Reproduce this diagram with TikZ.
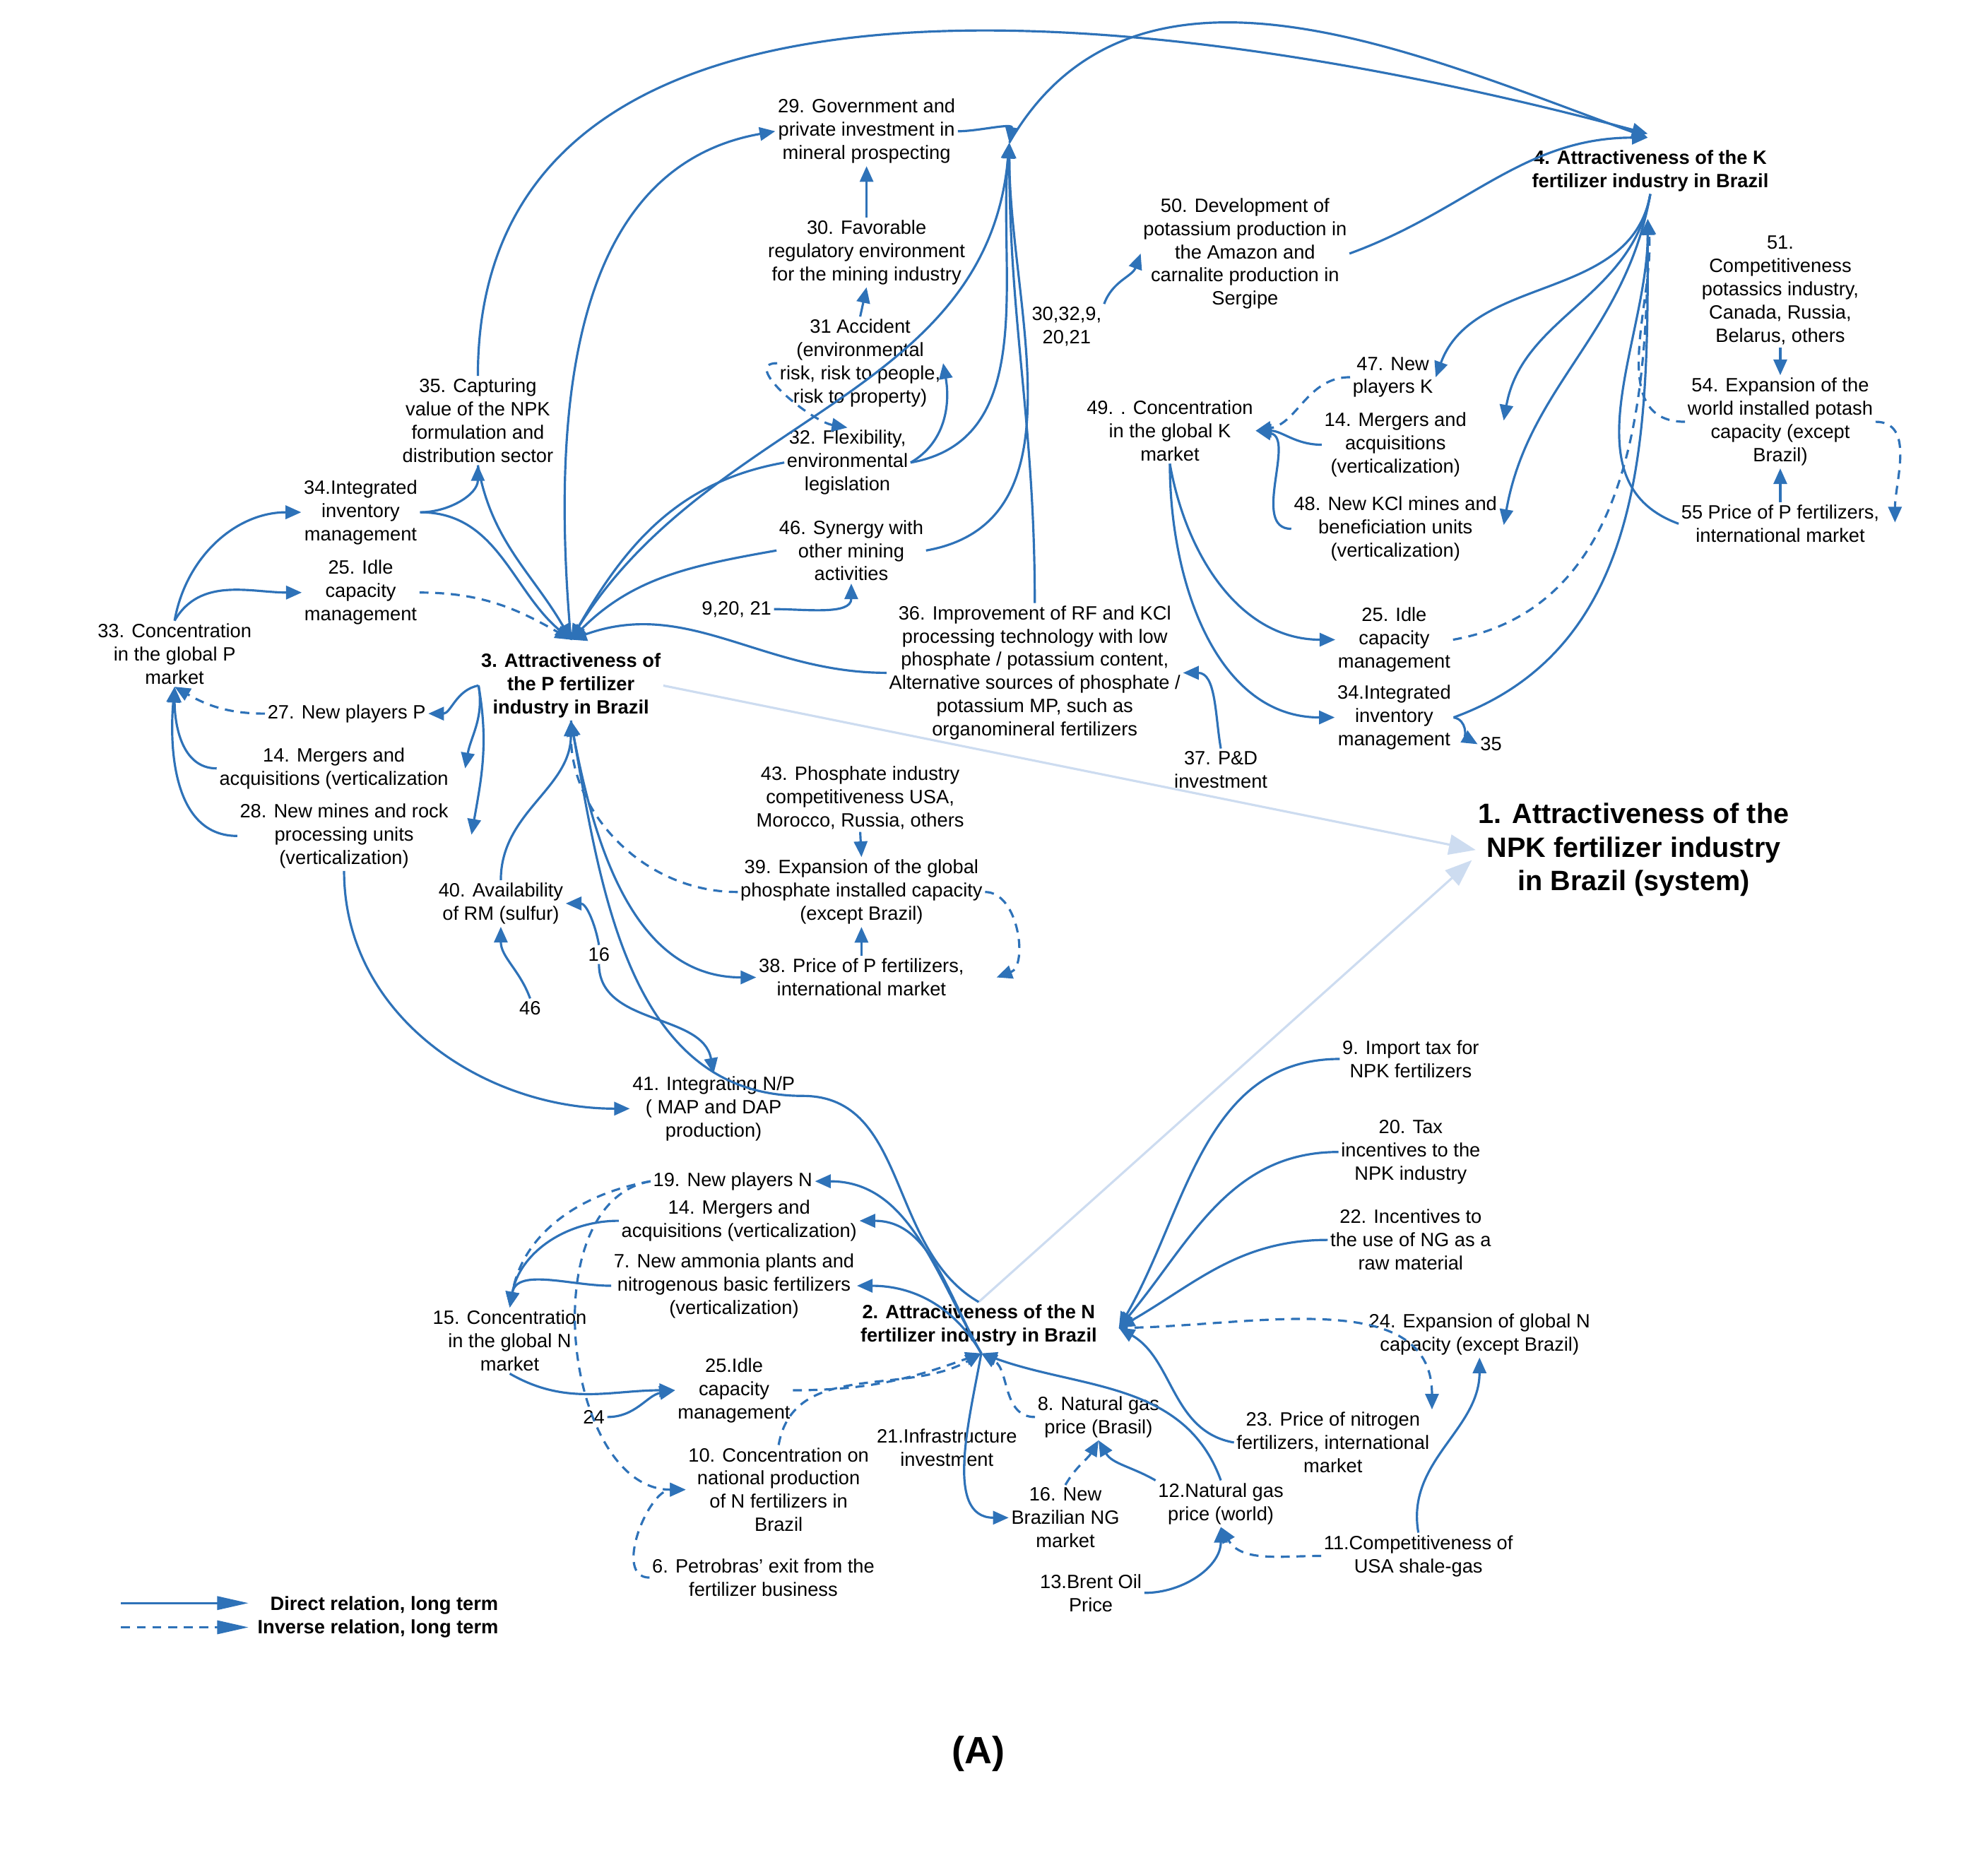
\documentclass[tikz,border=0pt]{standalone}
\usepackage{fontspec}
\setmainfont{Liberation Sans}
\usetikzlibrary{arrows.meta}
\definecolor{cldblue}{RGB}{46,114,184}
\definecolor{sysblue}{RGB}{205,220,240}
\tikzset{
	lbl/.style={align=center,inner sep=1pt,font=\fontsize{8.6}{10.4}\selectfont},
	hd/.style={lbl,font=\fontsize{8.6}{10.4}\selectfont\bfseries},
	dr/.style={draw=cldblue,line width=1pt,-{Triangle[length=7pt,width=6pt]}},
	inv/.style={dr,dash pattern=on 4pt off 3pt},
	sys/.style={draw=sysblue,line width=1pt,-{Triangle[length=12pt,width=9pt]}}
}
\begin{document}
\begin{tikzpicture}[x=0.02cm,y=-0.02cm]
		\useasboundingbox (0,0) rectangle (1560,1463);
		
		% P cluster
		\node[lbl] (n29) at (680,103) {29. Government and\\private investment in\\mineral prospecting};
		\node[lbl] (n30) at (680,198) {30. Favorable\\regulatory environment\\for the mining industry};
		\node[lbl] (n31) at (675,285) {31 Accident\\(environmental\\risk, risk to people,\\risk to property)};
		\node[lbl] (n32) at (665,363) {32. Flexibility,\\environmental\\legislation};
		\node[lbl] (n46) at (668,432) {46. Synergy with\\other mining\\activities};
		\node[lbl] (n35) at (375,330) {35. Capturing\\value of the NPK\\formulation and\\distribution sector};
		\node[lbl] (n34) at (283,402) {34.Integrated\\inventory\\management};
		\node[lbl] (n25) at (283,465) {25. Idle\\capacity\\management};
		\node[lbl] (n33) at (137,513) {33. Concentration\\in the global P\\market};
		\node[hd] (n3) at (448,538) {3. Attractiveness of\\the P fertilizer\\industry in Brazil};
		\node[lbl] (n27) at (272,560) {27. New players P};
		\node[lbl] (n14) at (262,603) {14. Mergers and\\acquisitions (verticalization};
		\node[lbl] (n28) at (270,656) {28. New mines and rock\\processing units\\(verticalization)};
		\node[lbl] (n40) at (393,709) {40. Availability\\of RM (sulfur)};
		\node[lbl] (n46b) at (416,791) {46};
		\node[lbl] (n16) at (470,749) {16};
		\node[lbl] (n36) at (812,528) {36. Improvement of RF and KCl\\processing technology with low\\phosphate / potassium content,\\Alternative sources of phosphate /\\potassium MP, such as\\organomineral fertilizers};
		\node[lbl] (n921) at (578,478) {9,20, 21};
		\node[lbl] (n37) at (958,604) {37. P\&D\\investment};
		\node[lbl] (n43) at (675,626) {43. Phosphate industry\\competitiveness USA,\\Morocco, Russia, others};
		\node[lbl] (n39) at (676,700) {39. Expansion of the global\\phosphate installed capacity\\(except Brazil)};
		\node[lbl] (n38) at (676,767) {38. Price of P fertilizers,\\international market};
		\node[lbl] (n41) at (560,870) {41. Integrating N/P\\( MAP and DAP\\production)};
		
		% K cluster
		\node[lbl] (n50) at (977,199) {50. Development of\\potassium production in\\the Amazon and\\carnalite production in\\Sergipe};
		\node[lbl] (n3032) at (837,256) {30,32,9,\\20,21};
		\node[hd] (n4) at (1295,134) {4. Attractiveness of the K\\fertilizer industry in Brazil};
		\node[lbl] (n51) at (1397,228) {51.\\Competitiveness\\potassics industry,\\Canada, Russia,\\Belarus, others};
		\node[lbl] (n54) at (1397,331) {54. Expansion of the\\world installed potash\\capacity (except\\Brazil)};
		\node[lbl] (n55) at (1397,411) {55 Price of P fertilizers,\\international market};
		\node[lbl] (n47) at (1093,296) {47. New\\players K};
		\node[lbl] (n14k) at (1095,349) {14. Mergers and\\acquisitions\\(verticalization)};
		\node[lbl] (n48) at (1095,415) {48. New KCl mines and\\beneficiation units\\(verticalization)};
		\node[lbl] (n49) at (918,338) {49. . Concentration\\in the global K\\market};
		\node[lbl] (n25k) at (1094,502) {25. Idle\\capacity\\management};
		\node[lbl] (n34k) at (1094,563) {34.Integrated\\inventory\\management};
		\node[lbl] (n35k) at (1170,584) {35};
		
		\node[lbl,font=\fontsize{12.5}{15}\selectfont\bfseries] (n1) at (1282,667) {1. Attractiveness of the\\NPK fertilizer industry\\in Brazil (system)};
		
		% N cluster
		\node[lbl] (n9) at (1107,831) {9. Import tax for\\NPK fertilizers};
		\node[lbl] (n20) at (1107,904) {20. Tax\\incentives to the\\NPK industry};
		\node[lbl] (n22) at (1107,973) {22. Incentives to\\the use of NG as a\\raw material};
		\node[lbl] (n24) at (1161,1047) {24. Expansion of global N\\capacity (except Brazil)};
		\node[lbl] (n23) at (1046,1132) {23. Price of nitrogen\\fertilizers, international\\market};
		\node[lbl] (n11) at (1113,1221) {11.Competitiveness of\\USA shale-gas};
		\node[hd] (n2) at (768,1040) {2. Attractiveness of the N\\fertilizer industry in Brazil};
		\node[lbl] (n19) at (575,927) {19. New players N};
		\node[lbl] (n14n) at (580,958) {14. Mergers and\\acquisitions (verticalization)};
		\node[lbl] (n7) at (576,1009) {7. New ammonia plants and\\nitrogenous basic fertilizers\\(verticalization)};
		\node[lbl] (n15) at (400,1052) {15. Concentration\\in the global N\\market};
		\node[lbl] (n25n) at (576,1091) {25.Idle\\capacity\\management};
		\node[lbl] (n24b) at (466,1112) {24};
		\node[lbl] (n10) at (611,1169) {10. Concentration on\\national production\\of N fertilizers in\\Brazil};
		\node[lbl] (n6) at (599,1238) {6. Petrobras' exit from the\\fertilizer business};
		\node[lbl] (n21) at (743,1136) {21.Infrastructure\\investment};
		\node[lbl] (n8) at (862,1112) {8. Natural gas\\price (Brasil)};
		\node[lbl] (n16n) at (836,1191) {16. New\\Brazilian NG\\market};
		\node[lbl] (n12) at (958,1180) {12.Natural gas\\price (world)};
		\node[lbl] (n13) at (856,1250) {13.Brent Oil\\Price};
		
		% hubs
		\coordinate (hP) at (448,502);
		\coordinate (hK) at (792,112);
		\coordinate (hK4) at (1293,172);
		\coordinate (hN) at (770,1062);
		\coordinate (hN2) at (878,1042);
		\coordinate (e54) at (1487,410);
		\coordinate (e39) at (782,767);
		
		% system links
		\draw[sys] (n3.east) -- (n1.west);
		\draw[sys] (n2.north) -- (1155,675);
		
		% P links
		\draw[dr] (n35.north) to[out=90,in=165] (1293,105);
		\draw[dr] (hP) to[out=95,in=190] (n29.west);
		\draw[dr] (n29.east) to[out=0,in=80] (hK);
		\draw[dr] (hK) to[out=60,in=160] (1293,108);
		\draw[dr] (hP) to[out=60,in=265] (hK);
		\draw[dr] (n32.east) to[out=10,in=265] (hK);
		\draw[dr] (n46.east) to[out=10,in=270] (hK);
		\draw[dr] (n36.north) to[out=90,in=270] (hK);
		\draw[dr] (n30.north) -- (n29.south);
		\draw[dr] (n31.north) -- (n30.south);
		\draw[dr] (n32.east) to[out=30,in=-80] (n31.east);
		\draw[inv] (n31.west) to[out=180,in=170] (n32.north);
		\draw[dr] (n34.east) to[out=0,in=-90] (n35.south);
		\draw[dr] (n33.north) to[out=80,in=180] (n34.west);
		\draw[dr] (n33.north) to[out=60,in=180] (n25.west);
		\draw[inv] (n25.east) to[out=0,in=150] (hP);
		\draw[dr] (n34.east) to[out=0,in=140] (hP);
		\draw[dr] (n35.south) to[out=-80,in=120] (hP);
		\draw[dr] (n32.west) to[out=190,in=60] (hP);
		\draw[dr] (n46.west) to[out=190,in=45] (hP);
		\draw[dr] (n36.west) to[out=180,in=20] (hP);
		\draw[inv] (n27.west) to[out=180,in=-30] (n33.south);
		\draw[dr] (n14.west) to[out=180,in=-90] (n33.south);
		\draw[dr] (n28.west) to[out=180,in=-95] (n33.south);
		\draw[dr] (n3.west) to[out=190,in=0] (n27.east);
		\draw[dr] (n3.west) to[out=-80,in=80] (365,603);
		\draw[dr] (n3.west) to[out=-80,in=80] (370,655);
		\draw[dr] (n28.south) to[out=-90,in=180] (n41.west);
		\draw[dr] (n40.north) to[out=90,in=-90] (n3.south);
		\draw[dr] (n46b.north) to[out=110,in=-90] (n40.south);
		\draw[dr] (n16.north) to[out=100,in=0] (n40.east);
		\draw[dr] (n16.south) to[out=-90,in=100] (n41.north);
		\draw[dr] (n3.south) to[out=-80,in=180] (n38.west);
		\draw[inv] (n39.west) to[out=180,in=-90] (n3.south);
		\draw[dr] (n43.south) -- (n39.north);
		\draw[dr] (n38.north) -- (n39.south);
		\draw[inv] (n39.east) to[out=0,in=20] (e39);
		\draw[dr] (n921.east) to[out=0,in=-90] (n46.south);
		\draw[dr] (n37.north) to[out=100,in=0] (n36.east);
		\draw[dr] (n2.north) to[out=150,in=0] (630,860) to[out=180,in=-80] (n3.south);
		
		% K links
		\draw[dr] (n3032.north east) to[out=70,in=250] (n50.west);
		\draw[dr] (n50.east) to[out=20,in=180] (1293,108);
		\draw[dr] (n4.south) to[out=-100,in=70] (n47.east);
		\draw[dr] (n4.south) to[out=-100,in=80] (1180,330);
		\draw[dr] (n4.south) to[out=-100,in=80] (1180,412);
		\draw[inv] (n47.west) to[out=180,in=10] (n49.east);
		\draw[dr] (n14k.west) to[out=180,in=0] (n49.east);
		\draw[dr] (n48.west) to[out=180,in=-10] (n49.east);
		\draw[dr] (n49.south) to[out=-80,in=180] (n25k.west);
		\draw[dr] (n49.south) to[out=-90,in=180] (n34k.west);
		\draw[inv] (n25k.east) to[out=10,in=-90] (hK4);
		\draw[dr] (n34k.east) to[out=20,in=-90] (hK4);
		\draw[dr] (n34k.east) to[out=-10,in=150] (n35k.west);
		\draw[dr] (n51.south) -- (n54.north);
		\draw[dr] (n55.north) -- (n54.south);
		\draw[dr] (n55.west) to[out=160,in=-90] (hK4);
		\draw[inv] (n54.west) to[out=180,in=-85] (hK4);
		\draw[inv] (n54.east) to[out=0,in=90] (e54);
		
		% N links
		\draw[dr] (hN) to[out=120,in=0] (n19.east);
		\draw[dr] (hN) to[out=120,in=0] (n14n.east);
		\draw[dr] (hN) to[out=120,in=0] (n7.east);
		\draw[inv] (n19.west) to[out=190,in=80] (n15.north);
		\draw[dr] (n14n.west) to[out=180,in=80] (n15.north);
		\draw[dr] (n7.west) to[out=180,in=80] (n15.north);
		\draw[inv] (n19.west) to[out=190,in=180] (n10.west);
		\draw[dr] (n15.south) to[out=-30,in=180] (n25n.west);
		\draw[dr] (n24b.east) to[out=0,in=190] (n25n.west);
		\draw[inv] (n25n.east) to[out=0,in=200] (hN);
		\draw[inv] (n10.north) to[out=80,in=210] (hN);
		\draw[inv] (n6.west) to[out=180,in=180] (n10.west);
		\draw[inv] (n8.west) to[out=180,in=-30] (hN);
		\draw[dr] (hN) to[out=-100,in=180] (n16n.west);
		\draw[inv] (n16n.north) to[out=60,in=-120] (n8.south);
		\draw[dr] (n12.north west) to[out=150,in=-60] (n8.south);
		\draw[inv] (n11.west) to[out=180,in=-60] (n12.south);
		\draw[dr] (n13.east) to[out=0,in=-90] (n12.south);
		\draw[dr] (n12.north) to[out=110,in=-20] (hN);
		\draw[dr] (n23.west) to[out=170,in=-30] (hN2);
		\draw[dr] (n9.west) to[out=180,in=60] (hN2);
		\draw[dr] (n20.west) to[out=180,in=50] (hN2);
		\draw[dr] (n22.west) to[out=180,in=30] (hN2);
		\draw[inv] (hN2) to[out=0,in=90] (n23.north east);
		\draw[dr] (n11.north) to[out=100,in=-90] (n24.south);
		
		% legend
		\node[hd,anchor=west] (l1) at (210,1260) {Direct relation, long term};
		\node[hd,anchor=west] (l2) at (200,1278) {Inverse relation, long term};
		\coordinate (l1s) at (95,1258);
		\coordinate (l2s) at (95,1277);
		\draw[dr,-{Triangle[length=14pt,width=6pt]}] (l1s) -- (195,1258);
		\draw[inv,-{Triangle[length=14pt,width=6pt]}] (l2s) -- (195,1277);
		
		\node[font=\fontsize{17}{20}\selectfont\bfseries] (cap) at (768,1376) {(A)};
		
		\end{tikzpicture}
\end{document}
